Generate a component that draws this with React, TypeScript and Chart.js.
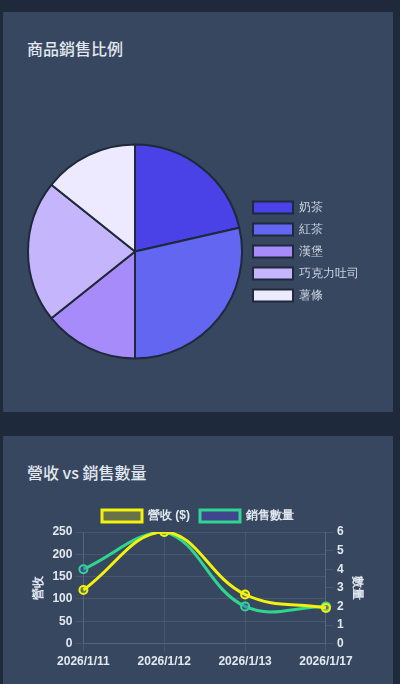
import React, { useEffect, useRef } from "react";
import { Chart, registerables } from "chart.js";

Chart.register(...registerables);

const pieLabels = ["奶茶", "紅茶", "漢堡", "巧克力吐司", "薯條"];
const pieValues = [3, 4, 2, 3, 2];
const pieColors = ["#4a42e6", "#6366f1", "#a78bfa", "#c4b5fd", "#ede9fe"];

const dates = ["2026/1/11", "2026/1/12", "2026/1/13", "2026/1/17"];
const revenue = [120, 250, 110, 80];
const quantity = [4, 6, 2, 2];

const revenueLabel = "營收 ($)";
const quantityLabel = "銷售數量";

const CARD_BG = "#384760";
const PAGE_BG = "#1e293b";
const TEXT = "#e2e8f0";
const GRID = "rgba(148,163,184,0.18)";

function PieChart() {
  const ref = useRef<HTMLCanvasElement | null>(null);
  useEffect(() => {
    if (!ref.current) return;
    const chart = new Chart(ref.current, {
      type: "pie",
      data: {
        labels: pieLabels,
        datasets: [
          {
            data: pieValues,
            backgroundColor: pieColors,
            borderColor: PAGE_BG,
            borderWidth: 2,
          },
        ],
      },
      options: {
        animation: false,
        responsive: true,
        maintainAspectRatio: false,
        plugins: {
          legend: {
            position: "right",
            labels: {
              color: "#cbd5e1",
              font: { size: 12 },
            },
          },
          tooltip: { enabled: false },
        },
      },
    });
    return () => chart.destroy();
  }, []);
  return <canvas ref={ref} />;
}

function LineChart() {
  const ref = useRef<HTMLCanvasElement | null>(null);
  useEffect(() => {
    if (!ref.current) return;
    const tickFont = { size: 12, weight: "bold" as const };
    const chart = new Chart(ref.current, {
      type: "line",
      data: {
        labels: dates,
        datasets: [
          {
            label: revenueLabel,
            data: revenue,
            borderColor: "#f2f20c",
            backgroundColor: "rgba(242,242,12,0.25)",
            borderWidth: 3,
            tension: 0.4,
            pointRadius: 4,
            pointBorderWidth: 2,
            yAxisID: "y",
          },
          {
            label: quantityLabel,
            data: quantity,
            borderColor: "#2fd68f",
            backgroundColor: "rgba(79,70,229,0.35)",
            borderWidth: 3,
            tension: 0.4,
            pointRadius: 4,
            pointBorderWidth: 2,
            yAxisID: "y1",
          },
        ],
      },
      options: {
        animation: false,
        responsive: true,
        maintainAspectRatio: false,
        plugins: {
          legend: {
            labels: {
              color: TEXT,
              font: { size: 12, weight: "bold" },
            },
          },
          tooltip: { enabled: false },
        },
        scales: {
          x: {
            grid: { color: GRID },
            border: { color: GRID },
            ticks: { color: TEXT, font: tickFont },
          },
          y: {
            position: "left",
            min: 0,
            max: 250,
            ticks: { stepSize: 50, color: TEXT, font: tickFont },
            grid: { color: GRID },
            border: { color: GRID },
            title: {
              display: true,
              text: "營收",
              color: TEXT,
              font: { size: 12, weight: "bold" },
            },
          },
          y1: {
            position: "right",
            min: 0,
            max: 6,
            ticks: { stepSize: 1, color: TEXT, font: tickFont },
            grid: { color: GRID, drawOnChartArea: false },
            border: { color: GRID },
            title: {
              display: true,
              text: "數量",
              color: TEXT,
              font: { size: 12, weight: "bold" },
            },
          },
        },
      },
    });
    return () => chart.destroy();
  }, []);
  return <canvas ref={ref} />;
}

const cardStyle: React.CSSProperties = {
  position: "relative",
  width: 390,
  height: 400,
  boxSizing: "border-box",
  padding: 24,
  background: CARD_BG,
};

const titleStyle: React.CSSProperties = {
  margin: 0,
  fontSize: 16,
  lineHeight: "24px",
  fontWeight: 500,
  color: TEXT,
  fontFamily: "'Noto Sans CJK TC', 'Noto Sans', sans-serif",
};

export default function App() {
  useEffect(() => {
    document.body.style.margin = "0";
    document.body.style.background = PAGE_BG;
  }, []);
  return (
    <div
      style={{
        background: PAGE_BG,
        padding: "12px 7px 0 3px",
        minHeight: 684,
        boxSizing: "border-box",
        overflow: "hidden",
        height: 684,
      }}
    >
      <div style={cardStyle}>
        <h3 style={titleStyle}>商品銷售比例</h3>
        <div style={{ position: "absolute", left: 24, top: 64, width: 342, height: 351 }}>
          <PieChart />
        </div>
      </div>
      <div style={{ ...cardStyle, marginTop: 24 }}>
        <h3 style={titleStyle}>營收 vs 銷售數量</h3>
        <div style={{ position: "absolute", left: 24, top: 64, width: 342, height: 172 }}>
          <LineChart />
        </div>
      </div>
    </div>
  );
}
